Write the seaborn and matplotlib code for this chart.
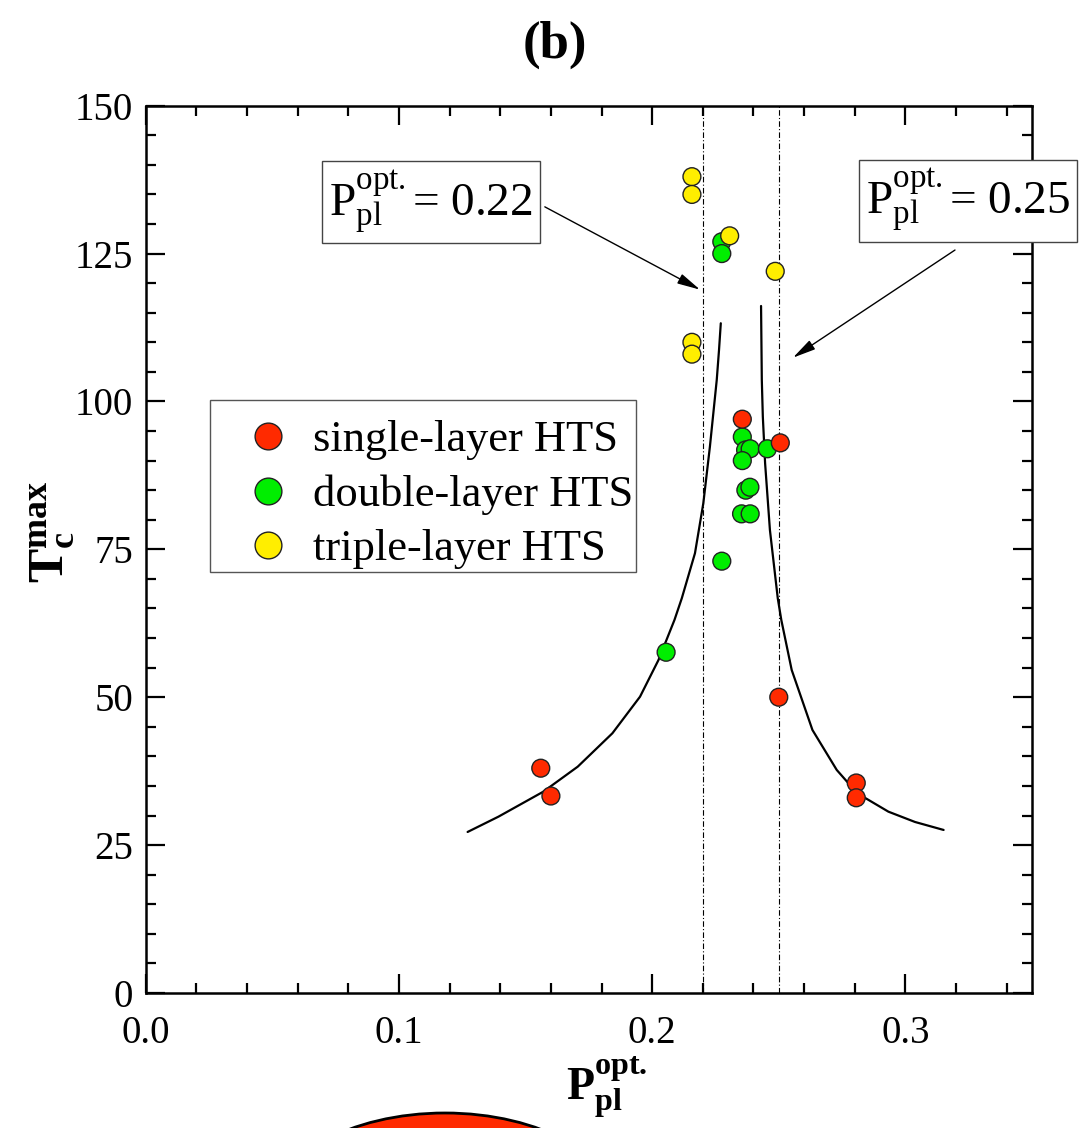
import numpy as np
import pandas as pd
import matplotlib
matplotlib.use("Agg")
import matplotlib.pyplot as plt
from matplotlib.patches import Ellipse, Rectangle
from matplotlib.ticker import MultipleLocator, FormatStrFormatter
import seaborn as sns

# ---- data -------------------------------------------------------------
single_x = [0.156, 0.160, 0.2356, 0.2506, 0.250, 0.2806, 0.2806]
single_y = [38.0, 33.3, 97.0, 93.0, 50.0, 35.5, 33.0]

double_x = [0.2275, 0.2275, 0.2356, 0.2369, 0.2387, 0.2356, 0.2455,
            0.2370, 0.2386, 0.2353, 0.2387, 0.2275, 0.2055]
double_y = [127.0, 125.0, 94.0, 91.8, 92.0, 90.0, 92.0,
            85.0, 85.5, 81.0, 81.0, 73.0, 57.6]

triple_x = [0.2157, 0.2157, 0.2306, 0.2486, 0.2157, 0.2157]
triple_y = [138.0, 135.0, 128.0, 122.0, 110.0, 108.0]

layer_names = ["single-layer HTS", "double-layer HTS", "triple-layer HTS"]
layer_colors = ["#ff2a00", "#00ee00", "#ffee00"]

# fitted branches on either side of the optimum
left_x = [0.1271, 0.1393, 0.1570, 0.1706, 0.1843, 0.1952, 0.2025, 0.2088,
          0.2117, 0.2169, 0.2202, 0.2228, 0.2255, 0.2264, 0.2271]
left_y = [27.22, 29.81, 34.03, 38.26, 43.91, 50.09, 56.30, 63.06,
          66.73, 74.34, 82.79, 92.36, 103.63, 108.71, 113.22]
right_x = [0.2430, 0.2433, 0.2437, 0.2446, 0.2465, 0.2496, 0.2510, 0.2551,
           0.2633, 0.2729, 0.2810, 0.2933, 0.3038, 0.3151]
right_y = [116.14, 103.63, 97.43, 89.55, 78.28, 66.73, 63.06, 54.61,
           44.46, 37.70, 33.76, 30.65, 28.91, 27.56]

p_opt = [0.22, 0.25]

# ---- style ------------------------------------------------------------
sns.set_style("ticks")
plt.rcParams["font.family"] = ["Liberation Serif", "DejaVu Serif"]
plt.rcParams["mathtext.fontset"] = "custom"
plt.rcParams["mathtext.rm"] = "Liberation Serif"
plt.rcParams["mathtext.it"] = "Liberation Serif:italic"
plt.rcParams["mathtext.bf"] = "Liberation Serif:bold"
for key in ["text.color", "axes.labelcolor", "xtick.color", "ytick.color",
            "axes.edgecolor"]:
    plt.rcParams[key] = "black"

fig = plt.figure(figsize=(10.88, 11.28), dpi=100)
ax = fig.add_axes([0.134, 0.1197, 0.8145, 0.7866])

df = pd.concat([
    pd.DataFrame({"x": double_x, "y": double_y, "layer": layer_names[1]}),
    pd.DataFrame({"x": single_x, "y": single_y, "layer": layer_names[0]}),
    pd.DataFrame({"x": triple_x, "y": triple_y, "layer": layer_names[2]}),
], ignore_index=True)

for xv in p_opt:
    ax.axvline(xv, color="black", lw=0.8, ls=(0, (5, 2, 1, 2)), zorder=1)

sns.lineplot(x=left_x, y=left_y, sort=False, estimator=None, color="black",
             lw=1.6, ax=ax, zorder=2)
sns.lineplot(x=right_x, y=right_y, sort=False, estimator=None, color="black",
             lw=1.6, ax=ax, zorder=2)

sns.scatterplot(data=df, x="x", y="y", hue="layer", hue_order=layer_names,
                palette=dict(zip(layer_names, layer_colors)), s=165,
                edgecolor="#222222", linewidth=1.0, ax=ax, zorder=3)

ax.set_xlim(0, 0.35)
ax.set_ylim(0, 150)
ax.xaxis.set_major_locator(MultipleLocator(0.1))
ax.xaxis.set_minor_locator(MultipleLocator(0.02))
ax.yaxis.set_major_locator(MultipleLocator(25))
ax.yaxis.set_minor_locator(MultipleLocator(5))
ax.xaxis.set_major_formatter(FormatStrFormatter("%.1f"))
ax.tick_params(which="both", direction="in", top=True, right=True, width=1.6)
ax.tick_params(which="major", length=14, labelsize=28)
ax.tick_params(axis="x", which="major", pad=16)
ax.tick_params(axis="y", which="major", pad=9)
ax.tick_params(which="minor", length=7)
for sp in ax.spines.values():
    sp.set_linewidth(1.8)
    sp.set_visible(True)

ax.set_xlabel(r"$\mathbf{P_{pl}^{opt.}}$", fontsize=33)
ax.xaxis.set_label_coords(0.52, -0.07)
ax.set_ylabel(r"$\mathbf{T_{c}^{max}}$", fontsize=37)
ax.yaxis.set_label_coords(-0.078, 0.52)

# legend: entries without frame, enclosed by a plain square box
handles, labels = ax.get_legend_handles_labels()
leg = ax.legend(handles, labels, loc="upper left", bbox_to_anchor=(0.0722, 0.668),
                borderaxespad=0, fontsize=32, markerscale=1.5, frameon=False,
                borderpad=0.45, handletextpad=0.16, labelspacing=0.32,
                handlelength=1.71)
ax.add_patch(Rectangle((0.0722, 0.4745), 0.4808, 0.1938, transform=ax.transAxes,
                       fill=False, ec="#555555", lw=1.0, zorder=5))

# labelled optimum values with arrows
box = dict(boxstyle="square,pad=0.15", fc="white", ec="#444444", lw=1.0)
ax.text(0.1126, 133.7, r"$\mathrm{P_{pl}^{opt.}}$= 0.22", fontsize=34,
        ha="center", va="center", bbox=box, zorder=6, clip_on=False)
ax.text(0.3248, 133.9, r"$\mathrm{P_{pl}^{opt.}}$= 0.25", fontsize=34,
        ha="center", va="center", bbox=box, zorder=6, clip_on=False)
arrow = dict(arrowstyle="-|>,head_length=1.4,head_width=0.32", lw=1.0,
             color="black", shrinkA=0, shrinkB=0)
ax.annotate("", xy=(0.2189, 118.9), xytext=(0.1576, 132.9), arrowprops=arrow)
ax.annotate("", xy=(0.2556, 107.4), xytext=(0.3196, 125.6), arrowprops=arrow)

fig.text(0.51, 0.960, "(b)", fontsize=38, fontweight="bold", ha="center", va="center")

# top of the next panel's marker
fig.patches.append(Ellipse((445 / 1088, 1 - 1213 / 1128), 350 / 1088, 200 / 1128,
                           transform=fig.transFigure, fc="#ff2a00", ec="black",
                           lw=2, figure=fig))

fig.savefig("out.png", dpi=100)
